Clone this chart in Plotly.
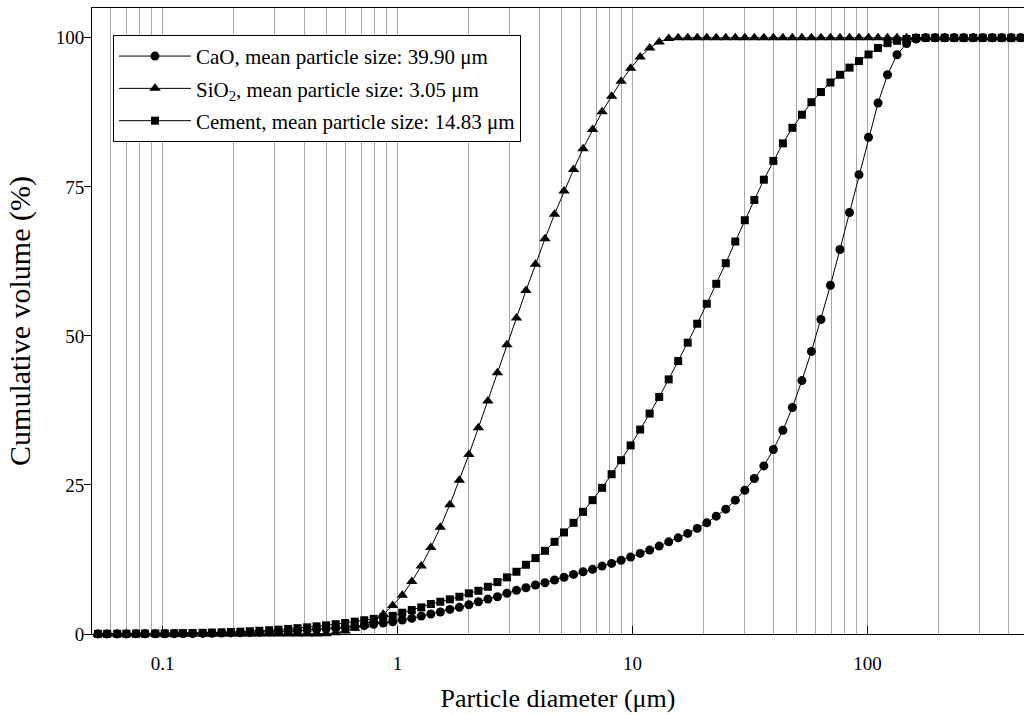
import plotly.graph_objects as go

# Particle diameters (um) – laser diffraction channels
diameter = [0.053, 0.058, 0.064, 0.070, 0.077, 0.084, 0.093, 0.102, 0.112, 0.122,
            0.134, 0.148, 0.162, 0.178, 0.195, 0.214, 0.235, 0.258, 0.284, 0.311,
            0.342, 0.375, 0.412, 0.452, 0.496, 0.545, 0.598, 0.657, 0.721, 0.791,
            0.869, 0.953, 1.047, 1.149, 1.261, 1.385, 1.520, 1.669, 1.832, 2.011,
            2.208, 2.423, 2.660, 2.920, 3.206, 3.519, 3.863, 4.241, 4.656, 5.111,
            5.611, 6.159, 6.761, 7.422, 8.148, 8.944, 9.819, 10.78, 11.83, 12.99,
            14.26, 15.65, 17.18, 18.86, 20.71, 22.73, 24.95, 27.39, 30.07, 33.01,
            36.24, 39.78, 43.67, 47.94, 52.62, 57.77, 63.41, 69.61, 76.42, 83.90,
            92.09, 101.1, 111.0, 121.8, 133.7, 146.8, 161.2, 176.9, 194.2, 213.2,
            234.1, 256.9, 282.1, 309.6, 339.9, 373.1, 409.6, 449.7, 493.6]

cao = [0.01, 0.01, 0.02, 0.02, 0.03, 0.03, 0.04, 0.05, 0.06, 0.07,
       0.08, 0.10, 0.12, 0.15, 0.18, 0.21, 0.25, 0.30, 0.35, 0.41,
       0.48, 0.56, 0.65, 0.75, 0.86, 0.98, 1.11, 1.25, 1.40, 1.62,
       1.85, 2.06, 2.35, 2.63, 3.02, 3.35, 3.69, 4.13, 4.47, 4.91,
       5.41, 5.86, 6.25, 6.82, 7.32, 7.76, 8.21, 8.59, 9.05, 9.50,
       10.0, 10.44, 10.84, 11.39, 11.84, 12.35, 12.90, 13.52, 14.07, 14.74,
       15.46, 16.13, 16.87, 17.71, 18.64, 19.77, 20.94, 22.45, 24.12, 26.08,
       28.19, 30.94, 34.17, 38.0, 42.5, 47.4, 52.76, 58.5, 64.5, 70.7,
       77.05, 83.3, 89.06, 93.8, 97.15, 99.05, 99.8, 100, 100, 100,
       100, 100, 100, 100, 100, 100, 100, 100, 100]

sio2 = [0, 0, 0, 0, 0, 0, 0, 0, 0, 0,
        0, 0, 0, 0, 0, 0, 0, 0, 0, 0,
        0, 0, 0, 0, 0.05, 0.2, 0.5, 0.95, 1.5, 2.25,
        3.3, 4.8, 6.5, 8.8, 11.4, 14.5, 17.9, 21.7, 25.8, 30.1,
        34.6, 39.1, 43.8, 48.5, 53.0, 57.6, 62.0, 66.3, 70.4, 74.3,
        77.9, 81.4, 84.6, 87.6, 90.2, 92.7, 94.9, 96.8, 98.3, 99.3,
        99.9, 100, 100, 100, 100, 100, 100, 100, 100, 100,
        100, 100, 100, 100, 100, 100, 100, 100, 100, 100,
        100, 100, 100, 100, 100, 100, 100, 100, 100, 100,
        100, 100, 100, 100, 100, 100, 100, 100, 100]

cement = [0.02, 0.03, 0.04, 0.05, 0.06, 0.07, 0.08, 0.10, 0.12, 0.14,
          0.17, 0.20, 0.24, 0.28, 0.33, 0.39, 0.46, 0.54, 0.63, 0.73,
          0.85, 0.98, 1.12, 1.28, 1.45, 1.64, 1.85, 2.07, 2.31, 2.54,
          2.78, 3.05, 3.57, 4.02, 4.47, 5.03, 5.41, 5.81, 6.25, 6.82,
          7.25, 7.92, 8.71, 9.50, 10.44, 11.61, 12.73, 13.95, 15.46, 17.04,
          18.64, 20.49, 22.45, 24.51, 26.80, 29.15, 31.63, 34.29, 36.97, 39.75,
          42.71, 45.78, 48.86, 52.04, 55.39, 58.74, 62.20, 65.83, 69.4, 72.8,
          76.2, 79.35, 82.3, 84.9, 87.1, 89.2, 90.9, 92.5, 93.8, 95.0,
          96.1, 97.2, 98.3, 99.1, 99.5, 99.8, 100, 100, 100, 100,
          100, 100, 100, 100, 100, 100, 100, 100, 100]

series_names = ["CaO, mean particle size: 39.90 \u03bcm",
                "SiO<sub>2</sub>, mean particle size: 3.05 \u03bcm",
                "Cement, mean particle size: 14.83 \u03bcm"]
x_tick_vals = [0.1, 1, 10, 100]
x_tick_text = ["0.1", "1", "10", "100"]
y_tick_vals = [0, 25, 50, 75, 100]

FONT = "Liberation Serif, Times New Roman, serif"

fig = go.Figure()
styles = [("circle", 9), ("triangle-up", 10), ("square", 8)]
for i, (name, vals, (sym, sz)) in enumerate(zip(series_names, [cao, sio2, cement], styles)):
    fig.add_trace(go.Scatter(
        x=diameter, y=vals, name=name, mode="lines+markers",
        legendgroup=f"g{i}",
        line=dict(color="black", width=1),
        marker=dict(symbol=sym, size=sz, color="black", line=dict(width=0)),
        cliponaxis=False,
    ))

minor_vals = [m * 10 ** e for e in range(-2, 3) for m in range(2, 10)]

fig.update_layout(
    width=1024, height=715,
    margin=dict(l=92, r=0, t=8, b=81),
    paper_bgcolor="white", plot_bgcolor="white",
    font=dict(family=FONT, color="black", size=16),
    showlegend=True,
    legend=dict(x=0.0225, y=0.957, xanchor="left", yanchor="top",
                bgcolor="white", bordercolor="black", borderwidth=1,
                font=dict(family=FONT, size=21), itemwidth=72,
                traceorder="grouped", tracegroupgap=2),
    xaxis=dict(type="log", range=[-1.30103, 2.6667],
               tickvals=x_tick_vals, ticktext=x_tick_text,
               ticks="inside", ticklen=8, tickcolor="black",
               ticklabelstandoff=12,
               showline=True, linecolor="black", linewidth=1, mirror=True,
               showgrid=True, gridcolor="#a8a8a8", gridwidth=1,
               minor=dict(tickvals=minor_vals, showgrid=True,
                          gridcolor="#a8a8a8", gridwidth=1, ticks=""),
               zeroline=False,
               title=dict(text="Particle diameter (\u03bcm)",
                          font=dict(family=FONT, size=26), standoff=16),
               tickfont=dict(family=FONT, size=19)),
    yaxis=dict(range=[0, 105], tickvals=y_tick_vals,
               ticks="outside", ticklen=7, tickcolor="black",
               ticklabelstandoff=-4,
               showline=True, linecolor="black", linewidth=1, mirror=False,
               showgrid=False, zeroline=False,
               title=dict(text="Cumulative volume (%)",
                          font=dict(family=FONT, size=30), standoff=16),
               tickfont=dict(family=FONT, size=19)),
)

fig.write_html("out.html")
